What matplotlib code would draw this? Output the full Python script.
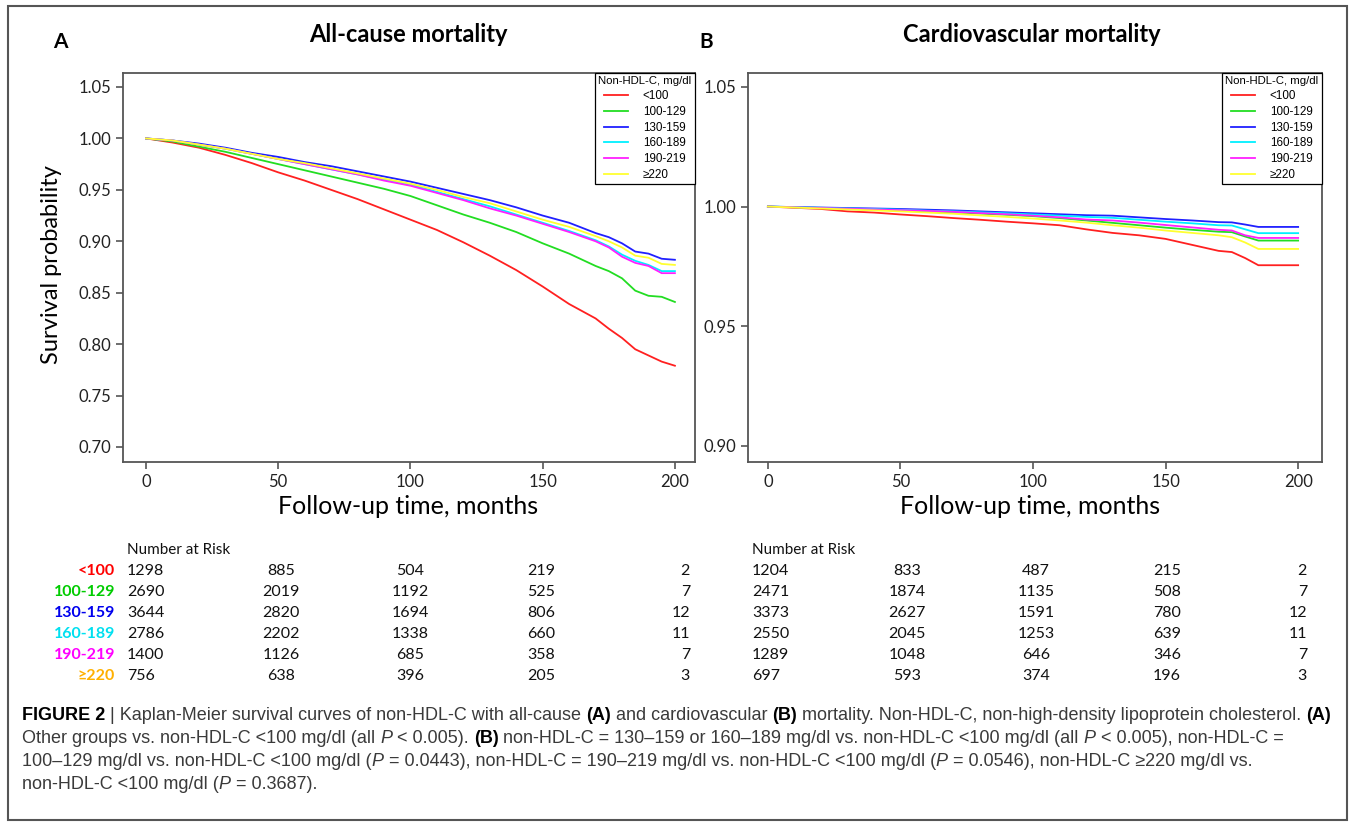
import matplotlib
matplotlib.use('Agg')
import matplotlib.pyplot as plt
from matplotlib.patches import Rectangle

W, H = 1357, 827

times = [0, 10, 20, 30, 40, 50, 60, 70, 80, 90, 100, 110, 120, 130, 140, 150, 160, 170,
         175, 180, 185, 190, 195, 200]

groups = ['<100', '100-129', '130-159', '160-189', '190-219', '≥220']
line_colors = ['#ff2020', '#22dd22', '#2020ff', '#00f0ff', '#ff20ff', '#ffff30']
label_colors = ['#ff0000', '#00cc00', '#0000ee', '#00e0f0', '#ff00ff', '#ffb000']

# panel A: all-cause mortality
surv_all = [
    [1.000, 0.996, 0.991, 0.984, 0.976, 0.967, 0.959, 0.950, 0.941, 0.931, 0.921, 0.911,
     0.899, 0.886, 0.872, 0.856, 0.839, 0.825, 0.815, 0.806, 0.795, 0.789, 0.783, 0.779],
    [1.000, 0.997, 0.992, 0.987, 0.981, 0.975, 0.969, 0.963, 0.957, 0.951, 0.944, 0.935,
     0.926, 0.918, 0.909, 0.898, 0.888, 0.876, 0.871, 0.864, 0.852, 0.847, 0.846, 0.841],
    [1.000, 0.998, 0.995, 0.991, 0.986, 0.982, 0.977, 0.973, 0.968, 0.963, 0.958, 0.952,
     0.946, 0.940, 0.933, 0.925, 0.918, 0.908, 0.904, 0.898, 0.890, 0.888, 0.883, 0.882],
    [1.000, 0.998, 0.994, 0.990, 0.985, 0.980, 0.975, 0.970, 0.965, 0.960, 0.955, 0.948,
     0.941, 0.934, 0.926, 0.918, 0.910, 0.901, 0.895, 0.887, 0.881, 0.877, 0.871, 0.871],
    [1.000, 0.998, 0.994, 0.990, 0.985, 0.980, 0.975, 0.970, 0.965, 0.959, 0.954, 0.947,
     0.940, 0.932, 0.925, 0.917, 0.909, 0.900, 0.894, 0.885, 0.879, 0.876, 0.869, 0.869],
    [1.000, 0.998, 0.994, 0.990, 0.985, 0.980, 0.976, 0.971, 0.966, 0.961, 0.956, 0.950,
     0.943, 0.937, 0.929, 0.921, 0.914, 0.905, 0.900, 0.894, 0.886, 0.884, 0.878, 0.877],
]

# panel B: cardiovascular mortality
surv_cv = [
    [1.0, 0.9995, 0.9990, 0.9980, 0.9975, 0.9967, 0.9960, 0.9952, 0.9945, 0.9937, 0.9930, 0.9922,
     0.9905, 0.9890, 0.9880, 0.9865, 0.9840, 0.9815, 0.9810, 0.9785, 0.9755, 0.9755, 0.9755, 0.9755],
    [1.0, 0.9997, 0.9994, 0.9990, 0.9987, 0.9984, 0.9980, 0.9976, 0.9971, 0.9966, 0.9960, 0.9952,
     0.9942, 0.9932, 0.9922, 0.9912, 0.9903, 0.9895, 0.9893, 0.9875, 0.9858, 0.9858, 0.9858, 0.9858],
    [1.0, 0.9998, 0.9996, 0.9994, 0.9992, 0.9990, 0.9987, 0.9984, 0.9980, 0.9976, 0.9972, 0.9968,
     0.9964, 0.9962, 0.9955, 0.9948, 0.9942, 0.9935, 0.9934, 0.9925, 0.9915, 0.9915, 0.9915, 0.9915],
    [1.0, 0.9998, 0.9995, 0.9992, 0.9990, 0.9987, 0.9983, 0.9980, 0.9976, 0.9972, 0.9967, 0.9962,
     0.9957, 0.9953, 0.9945, 0.9937, 0.9930, 0.9922, 0.9921, 0.9905, 0.9889, 0.9889, 0.9889, 0.9889],
    [1.0, 0.9997, 0.9994, 0.9991, 0.9988, 0.9985, 0.9982, 0.9978, 0.9973, 0.9968, 0.9962, 0.9955,
     0.9946, 0.9942, 0.9933, 0.9923, 0.9913, 0.9903, 0.9900, 0.9880, 0.9869, 0.9869, 0.9869, 0.9869],
    [1.0, 0.9996, 0.9992, 0.9988, 0.9984, 0.9980, 0.9975, 0.9970, 0.9963, 0.9957, 0.9950, 0.9942,
     0.9933, 0.9922, 0.9912, 0.9900, 0.9890, 0.9880, 0.9872, 0.9850, 0.9823, 0.9823, 0.9823, 0.9823],
]

# number at risk at 0, 50, 100, 150, 200 months
risk_all = [
    [1298, 885, 504, 219, 2],
    [2690, 2019, 1192, 525, 7],
    [3644, 2820, 1694, 806, 12],
    [2786, 2202, 1338, 660, 11],
    [1400, 1126, 685, 358, 7],
    [756, 638, 396, 205, 3],
]
risk_cv = [
    [1204, 833, 487, 215, 2],
    [2471, 1874, 1135, 508, 7],
    [3373, 2627, 1591, 780, 12],
    [2550, 2045, 1253, 639, 11],
    [1289, 1048, 646, 346, 7],
    [697, 593, 374, 196, 3],
]

yticks_all = [0.70, 0.75, 0.80, 0.85, 0.90, 0.95, 1.00, 1.05]
yticks_cv = [0.90, 0.95, 1.00, 1.05]
xticks = [0, 50, 100, 150, 200]

plt.rcParams['font.family'] = ['Lato', 'DejaVu Sans']
fig = plt.figure(figsize=(W / 100, H / 100), dpi=100)


def fx(x):
    return x / W


def fy(y):
    return 1 - y / H


def ptext(x, y, s, **kw):
    return fig.text(fx(x), fy(y), s, **kw)


def make_panel(rect, surv, ylim, xlim, yticks):
    ax = fig.add_axes(rect)
    for vals, col, name in zip(surv, line_colors, groups):
        ax.plot(times, vals, color=col, lw=1.3, label=name)
    ax.set_xlim(*xlim)
    ax.set_ylim(*ylim)
    ax.set_xticks(xticks)
    ax.set_yticks(yticks)
    ax.set_yticklabels(['%.2f' % v for v in yticks])
    for sp in ax.spines.values():
        sp.set_color('#555555')
        sp.set_linewidth(1.3)
    ax.tick_params(direction='out', length=5, width=1.2, color='#555555',
                   labelcolor='#222222', labelsize=12)
    leg = ax.legend(title='Non-HDL-C, mg/dl', loc='upper right', bbox_to_anchor=(1, 1),
                    borderaxespad=0, fancybox=False, edgecolor='black', framealpha=1,
                    prop={'family': 'Liberation Sans', 'size': 8.4},
                    title_fontproperties={'family': 'Liberation Sans', 'size': 8.2},
                    handlelength=2.0, handletextpad=1.3, labelspacing=0.32, borderpad=0.3)
    leg.get_frame().set_linewidth(0.9)
    return ax


axA = make_panel([fx(123), fy(462), fx(695) - fx(123), fy(73) - fy(462)],
                 surv_all, (0.6854, 1.0636), (-8.7, 207.6), yticks_all)
axB = make_panel([fx(748), fy(462), fx(1322) - fx(748), fy(73) - fy(462)],
                 surv_cv, (0.8933, 1.0558), (-7.5, 209), yticks_cv)

# titles and axis labels
ptext(60, 42, 'A', fontsize=15, fontweight='bold', ha='center', va='center')
ptext(706, 42, 'B', fontsize=15, fontweight='bold', ha='center', va='center')
ptext(408, 34, 'All-cause mortality', fontsize=17, fontweight='bold', ha='center', va='center')
ptext(1032, 34, 'Cardiovascular mortality', fontsize=17, fontweight='bold', ha='center', va='center')
ptext(52, 265, 'Survival probability', fontsize=17, rotation=90, ha='center', va='center')
ptext(408, 506, 'Follow-up time, months', fontsize=18, ha='center', va='center')
ptext(1030, 506, 'Follow-up time, months', fontsize=18, ha='center', va='center')

# number at risk tables
row_y = [571, 592, 613, 634, 655, 676]


def risk_table(x0, centers, x_last, risk, with_labels):
    ptext(x0, 550, 'Number at Risk', fontsize=11, ha='left', va='center', color='#111111')
    for i, row in enumerate(risk):
        y = row_y[i]
        if with_labels:
            ptext(115, y, groups[i], fontsize=11.5, fontweight='bold', ha='right', va='center',
                  color=label_colors[i])
        ptext(x0, y, str(row[0]), fontsize=11.5, ha='left', va='center', color='#111111')
        for c, v in zip(centers, row[1:4]):
            ptext(c, y, str(v), fontsize=11.5, ha='center', va='center', color='#111111')
        ptext(x_last, y, str(row[4]), fontsize=11.5, ha='right', va='center', color='#111111')


risk_table(127, [281, 410, 541], 690, risk_all, True)
risk_table(752, [907, 1036, 1167], 1307, risk_cv, False)

# outer frame
fig.patches.append(Rectangle((fx(8), fy(820)), fx(1347) - fx(8), fy(6) - fy(820),
                             transform=fig.transFigure, fill=False, edgecolor='#555555', lw=1.5))

# caption with mixed bold / italic runs
cap_family = ['Liberation Sans Narrow', 'Liberation Sans', 'DejaVu Sans']
cap_size = 13.0
renderer = fig.canvas.get_renderer()
N, B, I = ('normal', 'normal'), ('bold', 'normal'), ('normal', 'italic')
caption = [
    (720, [('FIGURE 2', B), (' | Kaplan-Meier survival curves of non-HDL-C with all-cause ', N), ('(A)', B),
           (' and cardiovascular ', N), ('(B)', B),
           (' mortality. Non-HDL-C, non-high-density lipoprotein cholesterol. ', N), ('(A)', B)]),
    (743, [('Other groups vs. non-HDL-C <100 mg/dl (all ', N), ('P', I), (' < 0.005). ', N), ('(B)', B),
           (' non-HDL-C = 130–159 or 160–189 mg/dl vs. non-HDL-C <100 mg/dl (all ', N), ('P', I),
           (' < 0.005), non-HDL-C =', N)]),
    (766, [('100–129 mg/dl vs. non-HDL-C <100 mg/dl (', N), ('P', I), (' = 0.0443), non-HDL-C = 190–219 mg/dl '
           'vs. non-HDL-C <100 mg/dl (', N), ('P', I), (' = 0.0546), non-HDL-C ≥220 mg/dl vs.', N)]),
    (789, [('non-HDL-C <100 mg/dl (', N), ('P', I), (' = 0.3687).', N)]),
]
for y, runs in caption:
    x = 22
    for s, (wt, st) in runs:
        t = ptext(x, y, s, fontsize=cap_size, fontweight=wt, fontstyle=st, family=cap_family,
                  ha='left', va='baseline', color='#000000' if wt == 'bold' else '#3a3a3a')
        x += t.get_window_extent(renderer=renderer).width

fig.savefig('out.png', dpi=100)
